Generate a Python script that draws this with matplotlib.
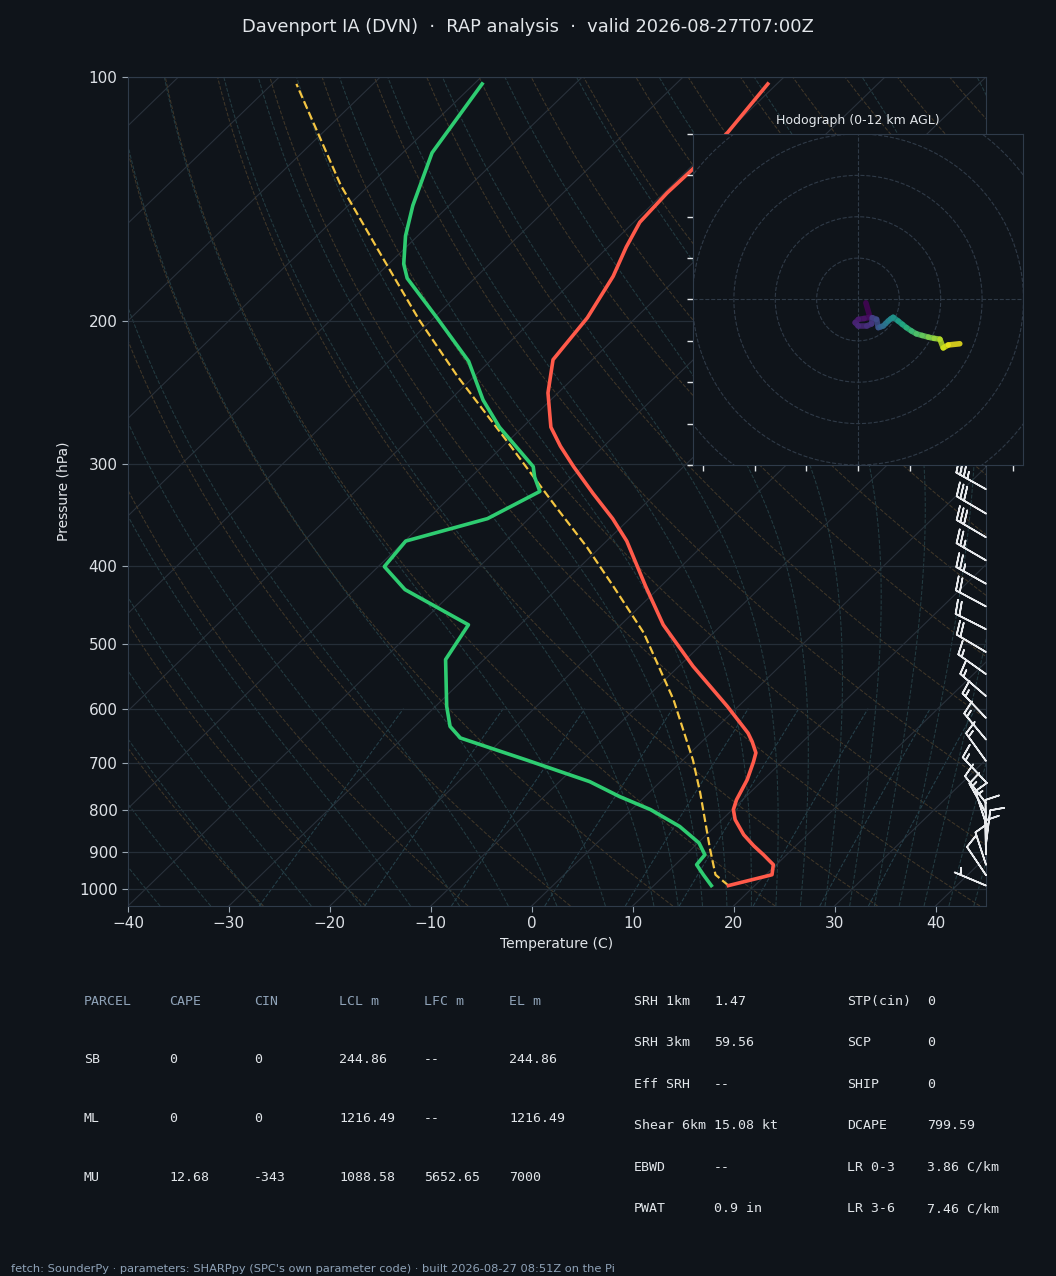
import numpy as np
import matplotlib
matplotlib.use('Agg')
import matplotlib.pyplot as plt
from matplotlib import transforms
from matplotlib.ticker import FixedLocator, FixedFormatter, NullLocator
from matplotlib.collections import LineCollection

# colours
BG = '#0f141a'
FG = '#e2e6ea'
SPINE = '#2f3b4a'
MUTED = '#8fa3b8'

# ---- sounding (pressure hPa, temperature C)
t_pres = [991, 961, 934, 908, 885, 858, 822, 799, 777, 734, 698, 680, 659, 643,
          596, 532, 473, 424, 373, 350, 326, 302, 285, 270, 245, 223, 198, 176,
          162, 151, 139, 130, 117, 102]
t_temp = [17.4, 20.6, 19.7, 17.7, 15.8, 13.7, 11.3, 10.1, 9.4, 8.4, 7.2, 6.5, 5.0, 3.7,
          -1.1, -8.6, -15.8, -21.5, -28.0, -31.7, -36.2, -40.9, -44.3, -47.2, -51.0,
          -53.9, -54.8, -56.5, -58.2, -59.4, -59.7, -59.6, -59.9, -60.9]

d_pres = [991, 961, 934, 908, 878, 838, 799, 770, 738, 694, 652, 631, 596, 522,
          473, 428, 401, 373, 350, 324, 311, 302, 270, 250, 224, 198, 177, 170,
          157, 144, 124, 102]
d_temp = [15.7, 13.8, 12.1, 11.9, 10.1, 6.5, 1.9, -2.5, -7.0, -15.5, -24.3, -26.5,
          -28.9, -33.8, -35.1, -45.0, -49.4, -49.9, -44.1, -41.7, -43.7, -44.9,
          -52.3, -56.7, -62.1, -69.7, -76.7, -78.5, -81.2, -83.6, -87.1, -89.2]

# surface parcel path
pc_pres = [991, 961, 895, 762, 694, 585, 484, 424, 379, 343, 315, 281, 234, 199,
           163, 136, 102]
pc_temp = [17.4, 15.0, 11.9, 5.1, 1.0, -7.1, -16.9, -24.7, -31.4, -37.7, -43.0,
           -50.1, -61.6, -71.3, -82.6, -92.8, -107.6]

# ---- wind profile (height km AGL, pressure hPa, u/v m/s)
w_hgt = [0.0, 0.25, 0.5, 0.75, 1.0, 1.25, 1.5, 1.75, 2.0, 2.5, 3.0, 3.5, 4.0, 4.5,
         5.0, 5.5, 6.0, 6.5, 7.0, 7.5, 8.0, 8.5, 9.0, 9.5, 10.0, 10.5, 11.0, 11.5,
         12.0, 12.5, 13.0, 13.5, 14.0]
w_pres = [991, 962, 934, 907, 881, 856, 831, 807, 784, 739, 696, 655, 616, 579,
          544, 511, 479, 449, 421, 394, 369, 345, 322, 301, 281, 262, 244, 228,
          212, 197, 183, 170, 158]
w_u = [1.9, 2.9, 1.5, 0.1, -0.7, 0.1, 2.1, 3.3, 3.45, 4.5, 4.9, 5.5, 6.1, 6.7,
       7.3, 7.9, 8.5, 9.7, 10.7, 11.7, 12.9, 14.1, 15.5, 17.0, 18.4, 19.8, 20.6,
       21.8, 24.6, 25.5, 26.0, 25.0, 23.0]
w_v = [-0.8, -4.3, -4.6, -4.8, -5.6, -6.4, -6.4, -5.9, -4.4, -4.8, -6.8, -6.6,
       -6.4, -5.8, -5.2, -4.7, -4.3, -5.2, -6.0, -6.8, -7.6, -8.3, -8.7, -9.1,
       -9.4, -9.6, -11.7, -11.0, -10.7, -10.0, -9.0, -8.0, -7.0]

# ---- parameter tables
parcel_cols = ['PARCEL', 'CAPE', 'CIN', 'LCL m', 'LFC m', 'EL m']
parcel_names = ['SB', 'ML', 'MU']
parcel_cape = ['0', '0', '12.68']
parcel_cin = ['0', '0', '-343']
parcel_lcl = ['244.86', '1216.49', '1088.58']
parcel_lfc = ['--', '--', '5652.65']
parcel_el = ['244.86', '1216.49', '7000']

kin_keys = ['SRH 1km', 'SRH 3km', 'Eff SRH', 'Shear 6km', 'EBWD', 'PWAT']
kin_vals = ['1.47', '59.56', '--', '15.08 kt', '--', '0.9 in']
comp_keys = ['STP(cin)', 'SCP', 'SHIP', 'DCAPE', 'LR 0-3', 'LR 3-6']
comp_vals = ['0', '0', '0', '799.59', '3.86 C/km', '7.46 C/km']

p_ticks = [100, 200, 300, 400, 500, 600, 700, 800, 900, 1000]

# ---- figure
fig = plt.figure(figsize=(10.56, 12.76), dpi=100, facecolor=BG)
ax = fig.add_axes([0.1212, 0.2900, 0.8125, 0.6497])
ax.set_facecolor(BG)
ax.set_yscale('log')
ax.set_xlim(-40, 45)
ax.set_ylim(1050, 100)
ax.set_autoscale_on(False)

# skew-x transform (45 deg in axes space, like MetPy)
skew = ax.transScale + ax.transLimits + transforms.Affine2D().skew_deg(45, 0) + ax.transAxes

# background: isotherms
for t0 in range(-160, 61, 10):
    ax.plot([t0, t0], [1050, 100], transform=skew, color='#29313b', lw=0.8, zorder=1)

pp = np.geomspace(1050, 100, 120)

# dry adiabats
for t0 in np.arange(-30, 201, 10):
    tt = (t0 + 273.15) * (pp / 1000.0) ** 0.2857 - 273.15
    ax.plot(tt, pp, transform=skew, color='#3f3628', lw=0.75, ls='--', zorder=1)


# moist adiabats
def moist_dtdp(T, p):
    es = 6.112 * np.exp(17.67 * (T - 273.15) / (T - 29.65))
    rs = 0.622 * es / (p - es)
    return (287.04 * T + 2.501e6 * rs) / (1005.7 + 2.501e6 ** 2 * rs * 0.622 / (287.04 * T * T)) / p


def moist_path(t0, levels):
    out = []
    T = t0 + 273.15
    p = 1000.0
    for p_next in levels:
        n = 6
        h = (p_next - p) / n
        for _ in range(n):
            k1 = moist_dtdp(T, p)
            k2 = moist_dtdp(T + 0.5 * h * k1, p + 0.5 * h)
            k3 = moist_dtdp(T + 0.5 * h * k2, p + 0.5 * h)
            k4 = moist_dtdp(T + h * k3, p + h)
            T += h * (k1 + 2 * k2 + 2 * k3 + k4) / 6
            p += h
        out.append(T - 273.15)
    return np.array(out)


up = np.geomspace(1000, 100, 100)
for t0 in np.concatenate((np.arange(-40., 10.1, 5), np.arange(12.5, 45.1, 2.5))):
    tu = moist_path(t0, up)
    tb = moist_path(t0, [1025, 1050])
    ax.plot(np.concatenate((tb[::-1], [t0], tu)), np.concatenate(([1050, 1025], [1000], up)),
            transform=skew, color='#233b41', lw=0.75, ls='--', zorder=1)

# mixing ratio lines
pm = np.geomspace(1050, 600, 30)
for w in [0.0004, 0.001, 0.002, 0.004, 0.007, 0.01, 0.016, 0.024, 0.032]:
    e = pm * w / (0.622 + w)
    le = np.log(e / 6.112)
    td = 243.5 * le / (17.67 - le)
    ax.plot(td, pm, transform=skew, color='#25404a', lw=0.75, ls='--', zorder=1)

# profiles
ax.plot(pc_temp, pc_pres, transform=skew, color='#f4c542', lw=1.6, ls='--', zorder=4)
ax.plot(t_temp, t_pres, transform=skew, color='#ff5a4a', lw=2.6, zorder=5)
ax.plot(d_temp, d_pres, transform=skew, color='#2ecc71', lw=2.6, zorder=5)

# wind barbs on the right edge
kt = 1.94384
barb_trans = transforms.blended_transform_factory(ax.transAxes, ax.transData)
ax.barbs(np.ones(len(w_pres)), w_pres, np.array(w_u) * kt, np.array(w_v) * kt,
         transform=barb_trans, color='#e8eaed', length=7, lw=1.2, clip_on=False, zorder=6)

# axes styling
ax.set_xlim(-40, 45)
ax.set_ylim(1050, 100)
ax.yaxis.set_major_locator(FixedLocator(p_ticks))
ax.yaxis.set_major_formatter(FixedFormatter([str(p) for p in p_ticks]))
ax.yaxis.set_minor_locator(NullLocator())
ax.set_xticks(np.arange(-40, 41, 10))
ax.grid(axis='y', color='#252e38', lw=0.9, zorder=1)
ax.tick_params(colors='#9aa6b2', labelcolor='#dde1e6', labelsize=11, length=4)
for s in ax.spines.values():
    s.set_color(SPINE)
ax.set_xlabel('Temperature (C)', color=FG, fontsize=10, labelpad=4)
ax.set_ylabel('Pressure (hPa)', color=FG, fontsize=10, labelpad=6)

fig.text(0.5, 0.9785, 'Davenport IA (DVN)  \u00b7  RAP analysis  \u00b7  valid 2026-08-27T07:00Z',
         ha='center', va='center', color=FG, fontsize=12.9)

# ---- hodograph inset
axh = fig.add_axes([0.6553, 0.6356, 0.3144, 0.2594])
axh.set_facecolor(BG)
axh.set_xlim(-40, 40)
axh.set_ylim(-40, 40)
axh.set_aspect('equal', adjustable='box')
ang = np.linspace(0, 2 * np.pi, 200)
for r in range(10, 61, 10):
    axh.plot(r * np.cos(ang), r * np.sin(ang), color='#2f3a47', lw=0.8, ls='--', zorder=1)
axh.axhline(0, color='#2f3a47', lw=0.8, ls='--', zorder=1)
axh.axvline(0, color='#2f3a47', lw=0.8, ls='--', zorder=1)

hu = np.array([u for u, z in zip(w_u, w_hgt) if z <= 12])
hv = np.array([v for v, z in zip(w_v, w_hgt) if z <= 12])
hz = np.array([z for z in w_hgt if z <= 12])
pts = np.column_stack([hu, hv])
segs = np.stack([pts[:-1], pts[1:]], axis=1)
lc = LineCollection(segs, cmap='viridis', norm=plt.Normalize(0, 12), lw=4, alpha=0.85,
                    capstyle='round', zorder=3)
lc.set_array(0.5 * (hz[:-1] + hz[1:]))
axh.add_collection(lc)

axh.set_xticks(np.arange(-37.5, 40, 12.5))
axh.set_yticks(np.arange(-40, 41, 10))
axh.tick_params(colors=FG, labelbottom=False, labelleft=False, length=4, width=1)
for s in axh.spines.values():
    s.set_color(SPINE)
axh.set_title('Hodograph (0-12 km AGL)', color=FG, fontsize=9, pad=7)

# ---- tables
mono = 'DejaVu Sans Mono'
col_x = [0.0795, 0.1600, 0.2405, 0.3210, 0.4015, 0.4820]
row_y = [0.2163, 0.1708, 0.1246, 0.0784]
for x, c in zip(col_x, parcel_cols):
    fig.text(x, row_y[0], c, color=MUTED, family=mono, fontsize=9.5, va='center_baseline')
for i, name in enumerate(parcel_names):
    vals = [name, parcel_cape[i], parcel_cin[i], parcel_lcl[i], parcel_lfc[i], parcel_el[i]]
    for x, v in zip(col_x, vals):
        fig.text(x, row_y[i + 1], v, color=FG, family=mono, fontsize=9.5, va='center_baseline')

kin_y = [1 - y / 1276 for y in [1000, 1041, 1083, 1124, 1166, 1207]]
for y, k, v in zip(kin_y, kin_keys, kin_vals):
    fig.text(0.6004, y, k, color=FG, family=mono, fontsize=9.5, va='center_baseline')
    fig.text(0.6761, y, v, color=FG, family=mono, fontsize=9.5, va='center_baseline')
for y, k, v in zip(kin_y, comp_keys, comp_vals):
    fig.text(0.8021, y, k, color=FG, family=mono, fontsize=9.5, va='center_baseline')
    fig.text(0.8778, y, v, color=FG, family=mono, fontsize=9.5, va='center_baseline')

fig.text(0.0104, 0.0055, "fetch: SounderPy \u00b7 parameters: SHARPpy (SPC's own parameter code) "
         "\u00b7 built 2026-08-27 08:51Z on the Pi", color=MUTED, fontsize=8.2, va='center')

fig.savefig('out.png', dpi=100, facecolor=BG)
